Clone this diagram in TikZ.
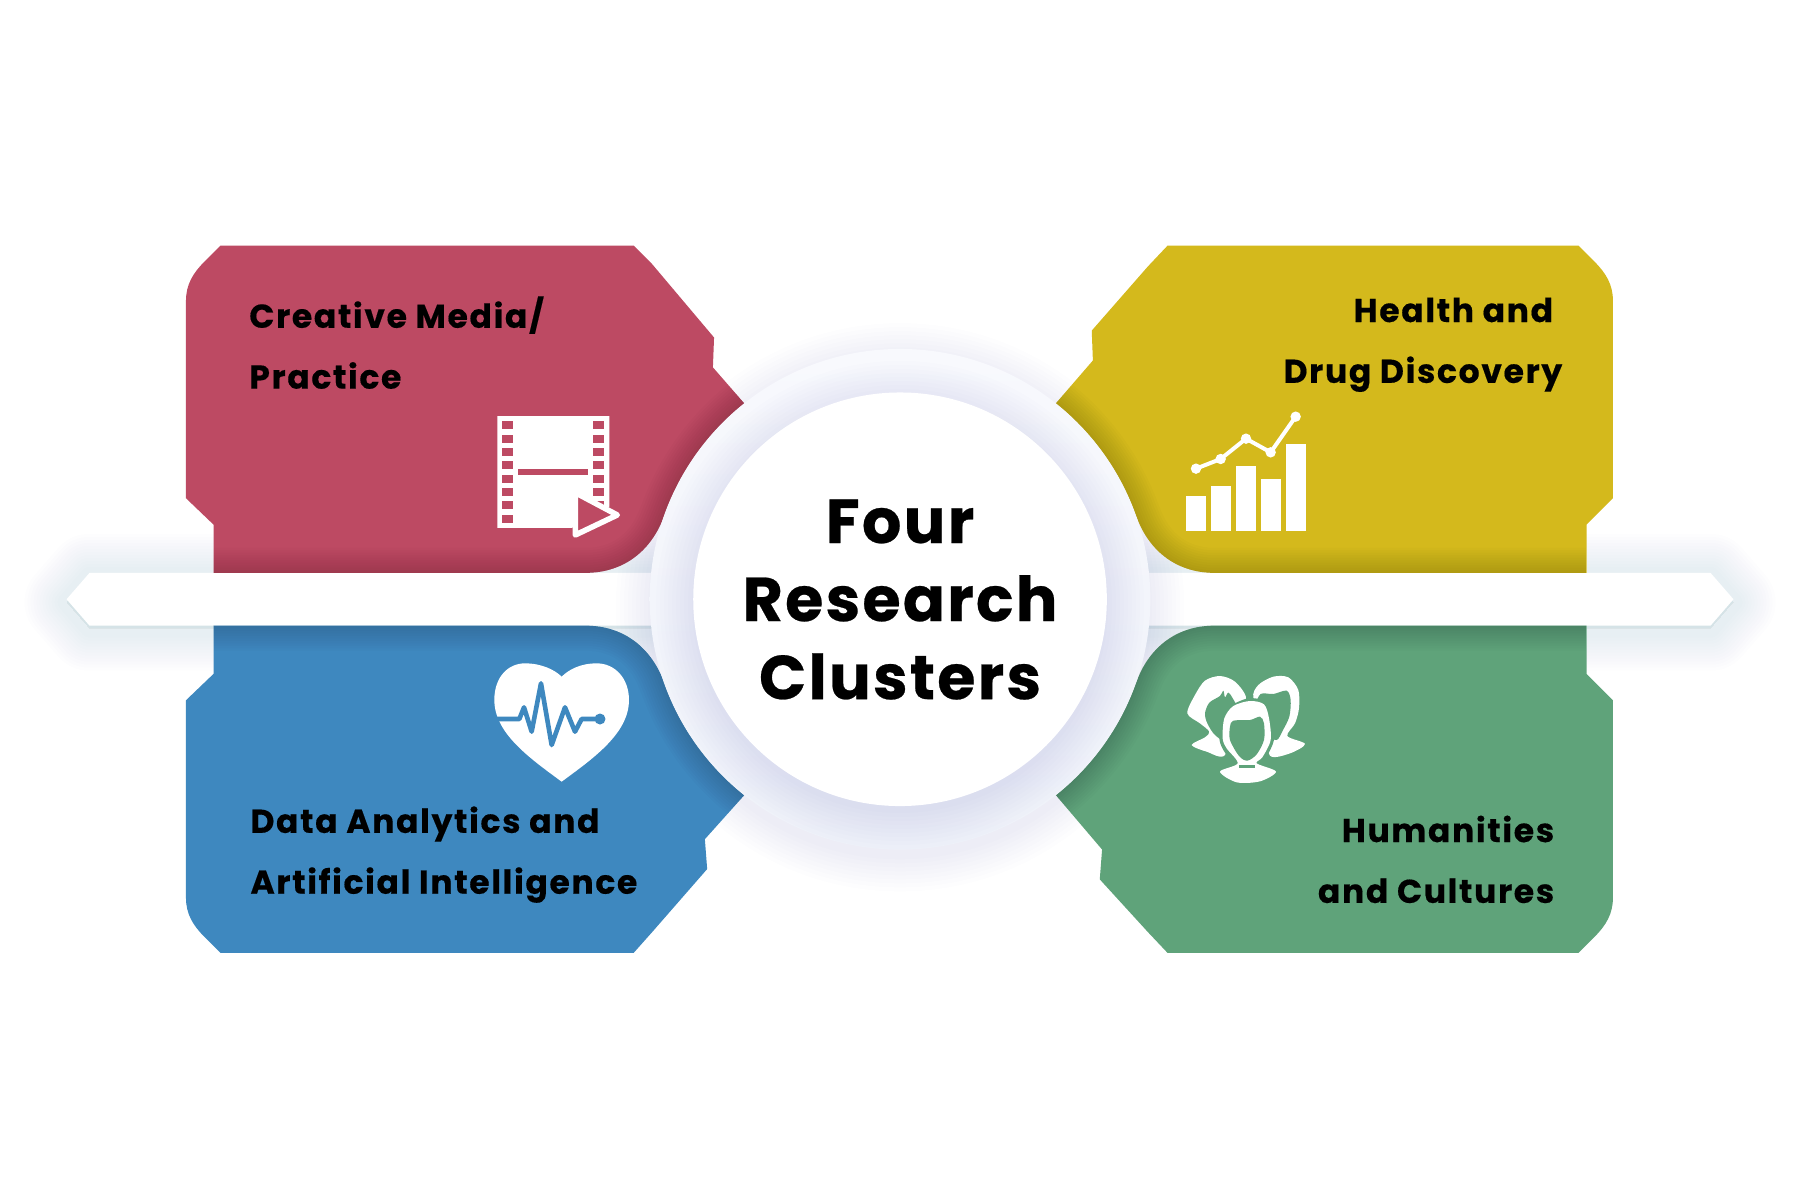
\documentclass[tikz,border=0pt]{standalone}
\usepackage{fontspec}
\newfontfamily\labelfont{Poppins}[LetterSpace=5,BoldFeatures={FakeBold=0.4}]
\newfontfamily\titlefont{Poppins}[LetterSpace=3.6,BoldFeatures={FakeBold=0.4}]
\definecolor{cred}{HTML}{BD4A63}
\definecolor{cyellow}{HTML}{D4B91C}
\definecolor{cblue}{HTML}{3E88BF}
\definecolor{cgreen}{HTML}{5FA37A}
\definecolor{halo}{HTML}{5C78B8}
\definecolor{ringhigh}{HTML}{F8F9FD}
\definecolor{ringlow}{HTML}{EEF1F9}
\tikzset{
  blocklabel/.style={inner sep=0pt,text=black,font=\labelfont\bfseries\fontsize{33}{36}\selectfont},
  titlelabel/.style={inner sep=0pt,text=black,anchor=base,font=\titlefont\bfseries\fontsize{62}{70}\selectfont},
  softrim/.style={draw=black,opacity=0.017,line join=round},
  iconline/.style={line join=round,line cap=round}
}
% block outlines in overview units (centre of circle 784,522, outer radius 218)
\def\redpath{(192,214) -- (552,214) -- (568,230) -- (622,294) -- (621,320) -- (648,351)
  -- plot[domain=231.5:199.3,samples=30] ({784+218*cos(\x)},{522+218*sin(\x)})
  .. controls (568,478) and (545,499) .. (510,499) -- (186,499) -- (186,457) -- (162,434) -- (162,262)
  .. controls (162,248) and (168,238) .. (178,228) -- cycle}
\def\rededge{(186,499) -- (510,499) .. controls (545,499) and (568,478) .. (578,450)
  -- plot[domain=199.3:231.5,samples=30] ({784+218*cos(\x)},{522+218*sin(\x)})}
\def\yellowpath{(1017,214) -- (1375,214) -- (1389,228) .. controls (1399,238) and (1405,248) .. (1405,262) -- (1405,434) -- (1382,457) -- (1382,499) -- (1058,499)
  .. controls (1023,499) and (1000,478) .. (990,450)
  -- plot[domain=-19.3:-51.5,samples=30] ({784+218*cos(\x)},{522+218*sin(\x)})
  -- (952,314) -- (951,288) -- (1000,232) -- cycle}
\def\yellowedge{(1382,499) -- (1058,499) .. controls (1023,499) and (1000,478) .. (990,450)
  -- plot[domain=-19.3:-51.5,samples=30] ({784+218*cos(\x)},{522+218*sin(\x)})}
\def\bluepath{(192,830) -- (552,830) -- (568,812) -- (616,757) -- (614,731) -- (648,693)
  -- plot[domain=128.5:160.7,samples=30] ({784+218*cos(\x)},{522+218*sin(\x)})
  .. controls (568,566) and (545,545) .. (510,545) -- (186,545) -- (186,587) -- (162,610) -- (162,782)
  .. controls (162,796) and (168,806) .. (178,816) -- cycle}
\def\blueedge{(186,545) -- (510,545) .. controls (545,545) and (568,566) .. (578,594)
  -- plot[domain=160.7:128.5,samples=30] ({784+218*cos(\x)},{522+218*sin(\x)})}
\def\greenpath{(1017,830) -- (1375,830) -- (1389,816) .. controls (1399,806) and (1405,796) .. (1405,782) -- (1405,610) -- (1382,587) -- (1382,545) -- (1058,545)
  .. controls (1023,545) and (1000,566) .. (990,594)
  -- plot[domain=19.3:51.5,samples=30] ({784+218*cos(\x)},{522+218*sin(\x)})
  -- (960,740) -- (958,766) -- (1000,812) -- cycle}
\def\greenedge{(1382,545) -- (1058,545) .. controls (1023,545) and (1000,566) .. (990,594)
  -- plot[domain=19.3:51.5,samples=30] ({784+218*cos(\x)},{522+218*sin(\x)})}
\def\barpath{(58,522) -- (78,499) -- (1490,499) -- (1510,522) -- (1490,545) -- (78,545) -- cycle}
\begin{document}
\begin{tikzpicture}[x=1pt,y=-1pt]
\useasboundingbox (0,0) rectangle (1800,1200);
\fill[white] (0,0) rectangle (1800,1200);
\begin{scope}[x=1.148pt,y=-1.148pt]
  % bar shadow
  \foreach \w in {84,78,...,14}
    \fill[halo,draw=halo,opacity=0.009,line width=\w pt,line join=round,yshift=-3pt] \barpath;
  \fill[white] \barpath;
  % circle halo
  \foreach \r in {284,280,...,252}
    \fill[halo,opacity=0.011] (784,529) circle[radius=\r pt];
  % blocks
  \fill[cred] \redpath;
  \fill[cyellow] \yellowpath;
  \fill[cblue] \bluepath;
  \fill[cgreen] \greenpath;
  % inner darkening along the edges that face the circle and the bar
  \begin{scope}\clip \redpath;
    \foreach \w in {50,45,...,5} \draw[softrim,line width=\w pt] \rededge;
  \end{scope}
  \begin{scope}\clip \yellowpath;
    \foreach \w in {50,45,...,5} \draw[softrim,line width=\w pt] \yellowedge;
  \end{scope}
  \begin{scope}\clip \bluepath;
    \foreach \w in {50,45,...,5} \draw[softrim,line width=\w pt] \blueedge;
  \end{scope}
  \begin{scope}\clip \greenpath;
    \foreach \w in {50,45,...,5} \draw[softrim,line width=\w pt] \greenedge;
  \end{scope}
  % ring and disc
  \shade[top color=ringhigh,bottom color=ringlow] (784,522) circle[radius=250.3pt];
  \begin{scope}
    \clip (784,522) circle[radius=250.3pt];
    \foreach \r in {244,240,...,208}
      \fill[halo,opacity=0.011] (784,527) circle[radius=\r pt];
  \end{scope}
  \fill[white] (784,522) circle[radius=206.8pt];
  % texts
  \node[titlelabel] (t1) at (784,473) {Four};
  \node[titlelabel] (t2) at (784,541) {Research};
  \node[titlelabel] (t3) at (784,609) {Clusters};
  \node[blocklabel,anchor=base west] (r1) at (217,285.5) {Creative Media/};
  \node[blocklabel,anchor=base west] (r2) at (217,338.5) {Practice};
  \node[blocklabel,anchor=base east] (y1) at (1353,280.5) {Health and};
  \node[blocklabel,anchor=base east] (y2) at (1361,333.5) {Drug Discovery};
  \node[blocklabel,anchor=base west] (b1) at (218,725.5) {Data Analytics and};
  \node[blocklabel,anchor=base west] (b2) at (218,778.5) {Artificial Intelligence};
  \node[blocklabel,anchor=base east] (g1) at (1354,733.5) {Humanities};
  \node[blocklabel,anchor=base east] (g2) at (1354,786.5) {and Cultures};
\end{scope}
% film icon (crop units)
\begin{scope}[shift={(480pt,-400pt)},x=0.3333pt,y=-0.3333pt]
  \fill[white] (52,48) -- (388,48) -- (388,320) -- (275,384) -- (52,384) -- cycle;
  \foreach \i in {0,...,7} \fill[cred] (66,64+40*\i) rectangle (98,88+40*\i);
  \foreach \i in {0,...,6} \fill[cred] (340,64+40*\i) rectangle (372,88+40*\i);
  \fill[cred] (115,208) rectangle (323,224);
  \filldraw[fill=cred,draw=white,line width=5.5pt,line join=round] (286,278) -- (412,345) -- (286,405) -- cycle;
\end{scope}
% chart icon
\begin{scope}[shift={(1170pt,-400pt)},x=0.3333pt,y=-0.3333pt]
  \fill[white] (48,288) rectangle (108,392);
  \fill[white] (124,259) rectangle (184,392);
  \fill[white] (198,199) rectangle (258,392);
  \fill[white] (272,236) rectangle (332,392);
  \fill[white] (348,132) rectangle (408,392);
  \draw[white,line width=4pt,iconline] (78,206) -- (152,177) -- (228,116) -- (302,157) -- (377,50);
  \foreach \p/\q in {78/206,152/177,228/116,302/157,377/50} \fill[white] (\p,\q) circle[radius=5.2pt];
\end{scope}
% heart icon
\begin{scope}[shift={(480pt,-650pt)},x=0.3333pt,y=-0.3333pt]
  \fill[white] (245,395) .. controls (150,325) and (43,250) .. (43,150)
    .. controls (43,80) and (85,40) .. (135,40) .. controls (185,40) and (225,60) .. (245,80)
    .. controls (265,60) and (300,40) .. (350,40) .. controls (405,40) and (447,85) .. (447,150)
    .. controls (447,250) and (340,325) .. (245,395) -- cycle;
  \draw[cblue,line width=4.6pt,iconline] (45,207) -- (118,207) -- (132,172) -- (155,245) -- (183,100) -- (215,285) -- (255,172) -- (285,245) -- (305,207) -- (360,207);
  \fill[cblue] (360,207) circle[radius=5.5pt];
\end{scope}
% people icon
\begin{scope}[shift={(1170pt,-660pt)},x=0.3333pt,y=-0.3333pt]
  \fill[white] plot[smooth cycle,tension=0.5] coordinates {(52,160) (75,105) (105,62) (150,48) (195,65) (228,115) (190,170) (165,285) (110,275) (65,255) (105,232) (118,215) (90,190)};
  \fill[cgreen] plot[smooth cycle,tension=0.5] coordinates {(105,160) (118,128) (150,108) (160,92) (165,112) (175,98) (190,118) (205,160) (170,240) (135,225) (112,190)};
  \fill[white] plot[smooth cycle,tension=0.5] coordinates {(250,115) (265,75) (310,50) (355,52) (385,90) (387,145) (375,190) (352,228) (405,252) (360,280) (300,287) (290,200)};
  \fill[cgreen] plot[smooth cycle,tension=0.5] coordinates {(272,102) (310,102) (350,92) (362,120) (358,170) (338,212) (320,240) (290,220) (260,140)};
  \fill[cgreen] plot[smooth cycle,tension=0.5] coordinates {(178,140) (235,115) (290,125) (310,175) (312,240) (290,290) (275,310) (230,330) (190,310) (160,270) (148,235) (155,175)};
  \fill[white] plot[smooth cycle,tension=0.5] coordinates {(163,175) (190,138) (240,123) (282,133) (297,175) (302,240) (277,292) (260,310) (318,335) (270,364) (200,367) (150,335) (203,310) (170,265) (158,235)};
  \fill[cgreen] plot[smooth cycle,tension=0.5] coordinates {(190,182) (240,180) (270,170) (282,190) (282,240) (260,283) (232,302) (207,288) (180,240) (180,200)};
  \fill[cgreen] (207,316) rectangle (256,324);
\end{scope}
\end{tikzpicture}
\end{document}
